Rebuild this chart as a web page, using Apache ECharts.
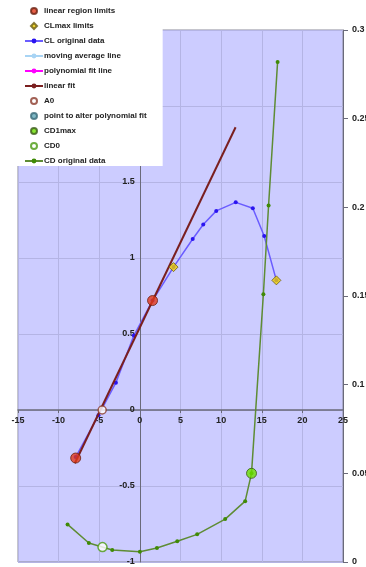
<!DOCTYPE html>
<html>
<head>
<meta charset="utf-8">
<script src="https://cdn.jsdelivr.net/npm/echarts@6/dist/echarts.min.js"></script>
<style>
html,body{margin:0;padding:0;background:#fff;}
#c{width:366px;height:567px;}
</style>
</head>
<body>
<div id="c"></div>
<script>
// ---- data ----
var clAlpha = [-7.9, -5.1, -2.95, -0.74, 1.56, 4.14, 6.5, 7.8, 9.4, 11.8, 13.9, 15.3, 16.8];
var clValues = [-0.31, -0.035, 0.18, 0.49, 0.72, 0.94, 1.125, 1.22, 1.31, 1.366, 1.327, 1.145, 0.853];
var cdAlpha = [-8.9, -6.28, -3.4, 0, 2.1, 4.6, 7.05, 10.5, 12.96, 13.74, 15.2, 15.84, 16.95];
var cdValues = [0.0212, 0.0107, 0.0068, 0.0058, 0.0079, 0.0117, 0.0156, 0.0242, 0.0343, 0.050, 0.151, 0.201, 0.282];
var linearLimits = [[-7.9, -0.316], [1.56, 0.72]];
var clmaxLimits = [[4.14, 0.94], [16.8, 0.853]];
var linearFit = [[-8, -0.35], [11.78, 1.86]];
var a0Point = [[-4.64, 0]];
var cd1maxPoint = [[13.74, 0.050]];
var cd0Point = [[-4.6, 0.0084]];
var legendNames = ['linear region limits', 'CLmax limits', 'CL original data', 'moving average line',
  'polynomial fit line', 'linear fit', 'A0', 'point to alter polynomial fit', 'CD1max', 'CD0', 'CD original data'];
var xRange = [-15, 25], xStep = 5;
var clRange = [-1, 2.5], clStep = 0.5;
var cdRange = [0, 0.3], cdStep = 0.05;

function zip(xs, ys) { return xs.map(function (x, i) { return [x, ys[i]]; }); }

var W = 366, H = 567;
var G = {left: 18, right: 23, top: 30, bottom: 5};
var gridH = H - G.top - G.bottom;
var gridW = W - G.left - G.right;
// axes cross at (0, 0) like the original spreadsheet chart
var xAxisOffset = -gridH * (0 - clRange[0]) / (clRange[1] - clRange[0]);
var yAxisOffset = -gridW * (0 - xRange[0]) / (xRange[1] - xRange[0]);

var FONT = 'Liberation Sans';
var chart = echarts.init(document.getElementById('c'), null, {renderer: 'canvas'});
var axisLabelStyle = {fontFamily: FONT, fontSize: 9, fontWeight: 'bold', color: '#222'};

var legendData = legendNames.map(function (n) {
  return n === 'CLmax limits' ? {name: n, icon: 'path://M5,0L10,5L5,10L0,5Z'} : {name: n};
});

chart.setOption({
  animation: false,
  grid: {left: G.left, right: G.right, top: G.top, bottom: G.bottom, containLabel: false, outerBoundsMode: 'none',
    show: true, backgroundColor: '#ccccff', borderColor: '#8a8a9a', borderWidth: 1},
  legend: {
    orient: 'vertical', left: 0, top: 0,
    backgroundColor: '#ffffff',
    padding: [6, 16, 0, 24],
    itemWidth: 18, itemHeight: 6, itemGap: 5,
    symbolKeepAspect: true,
    data: legendData,
    textStyle: {fontFamily: FONT, fontSize: 8, fontWeight: 'bold', color: '#222', lineHeight: 10, padding: [0, 0, 0, -4]},
    selectedMode: false
  },
  xAxis: {
    type: 'value', min: xRange[0], max: xRange[1], interval: xStep, position: 'bottom', offset: xAxisOffset,
    axisLine: {onZero: false, lineStyle: {color: '#6a6a7a', width: 1.5}},
    axisTick: {show: true, length: 3, lineStyle: {color: '#6a6a7a'}},
    axisLabel: Object.assign({margin: 6, showMinLabel: true, showMaxLabel: true}, axisLabelStyle),
    splitLine: {show: true, lineStyle: {color: '#b4b4e4', width: 1}}
  },
  yAxis: [{
    type: 'value', min: clRange[0], max: clRange[1], interval: clStep, position: 'left', offset: yAxisOffset,
    axisLine: {show: true, onZero: false, lineStyle: {color: '#6a6a7a', width: 1}},
    axisTick: {show: false},
    axisLabel: Object.assign({margin: 5}, axisLabelStyle),
    splitLine: {show: true, lineStyle: {color: '#b4b4e4', width: 1}}
  }, {
    type: 'value', min: cdRange[0], max: cdRange[1], interval: cdStep, position: 'right',
    axisLine: {show: true, onZero: false, lineStyle: {color: '#6a6a7a', width: 1}},
    axisTick: {show: true, length: 5, lineStyle: {color: '#6a6a7a'}},
    axisLabel: Object.assign({margin: 9}, axisLabelStyle),
    splitLine: {show: false}
  }],
  series: [
    {name: 'CL original data', type: 'line', data: zip(clAlpha, clValues), z: 3,
      symbol: 'circle', symbolSize: 4, showSymbol: true,
      lineStyle: {color: '#6a5cff', width: 1.5}, itemStyle: {color: '#2a14f0', borderWidth: 0}},
    {name: 'moving average line', type: 'line', data: [], symbol: 'none',
      lineStyle: {color: '#a8d4f4', width: 2}, itemStyle: {color: '#a8d4f4'}},
    {name: 'polynomial fit line', type: 'line', data: [], symbol: 'none',
      lineStyle: {color: '#ff00ff', width: 2}, itemStyle: {color: '#ff00ff'}},
    {name: 'linear fit', type: 'line', data: linearFit, z: 4, symbol: 'none',
      lineStyle: {color: '#7a1f1f', width: 2}, itemStyle: {color: '#7a1f1f'}},
    {name: 'CD original data', type: 'line', yAxisIndex: 1, data: zip(cdAlpha, cdValues), z: 3,
      symbol: 'circle', symbolSize: 4, showSymbol: true,
      lineStyle: {color: '#5e8c34', width: 1.5}, itemStyle: {color: '#3f8a06', borderWidth: 0}},
    {name: 'linear region limits', type: 'scatter', data: linearLimits, z: 6,
      symbol: 'circle', symbolSize: 10,
      itemStyle: {color: '#e2381a', borderColor: '#6a2010', borderWidth: 1}},
    {name: 'CLmax limits', type: 'scatter', data: clmaxLimits, z: 6,
      symbol: 'diamond', symbolSize: 9,
      itemStyle: {color: '#f2d200', borderColor: '#6a5a10', borderWidth: 1}},
    {name: 'A0', type: 'scatter', data: a0Point, z: 6,
      symbol: 'circle', symbolSize: 8,
      itemStyle: {color: '#ffffff', borderColor: '#8b3a2a', borderWidth: 1.5}},
    {name: 'point to alter polynomial fit', type: 'scatter', data: [], z: 6,
      symbol: 'circle', symbolSize: 7,
      itemStyle: {color: '#62a8b8', borderColor: '#3a6a78', borderWidth: 1}},
    {name: 'CD1max', type: 'scatter', yAxisIndex: 1, data: cd1maxPoint, z: 6,
      symbol: 'circle', symbolSize: 10,
      itemStyle: {color: '#6ce000', borderColor: '#3a5a18', borderWidth: 1}},
    {name: 'CD0', type: 'scatter', yAxisIndex: 1, data: cd0Point, z: 6,
      symbol: 'circle', symbolSize: 9,
      itemStyle: {color: '#ffffff', borderColor: '#4a9a10', borderWidth: 1.5}}
  ]
});
</script>
</body>
</html>
